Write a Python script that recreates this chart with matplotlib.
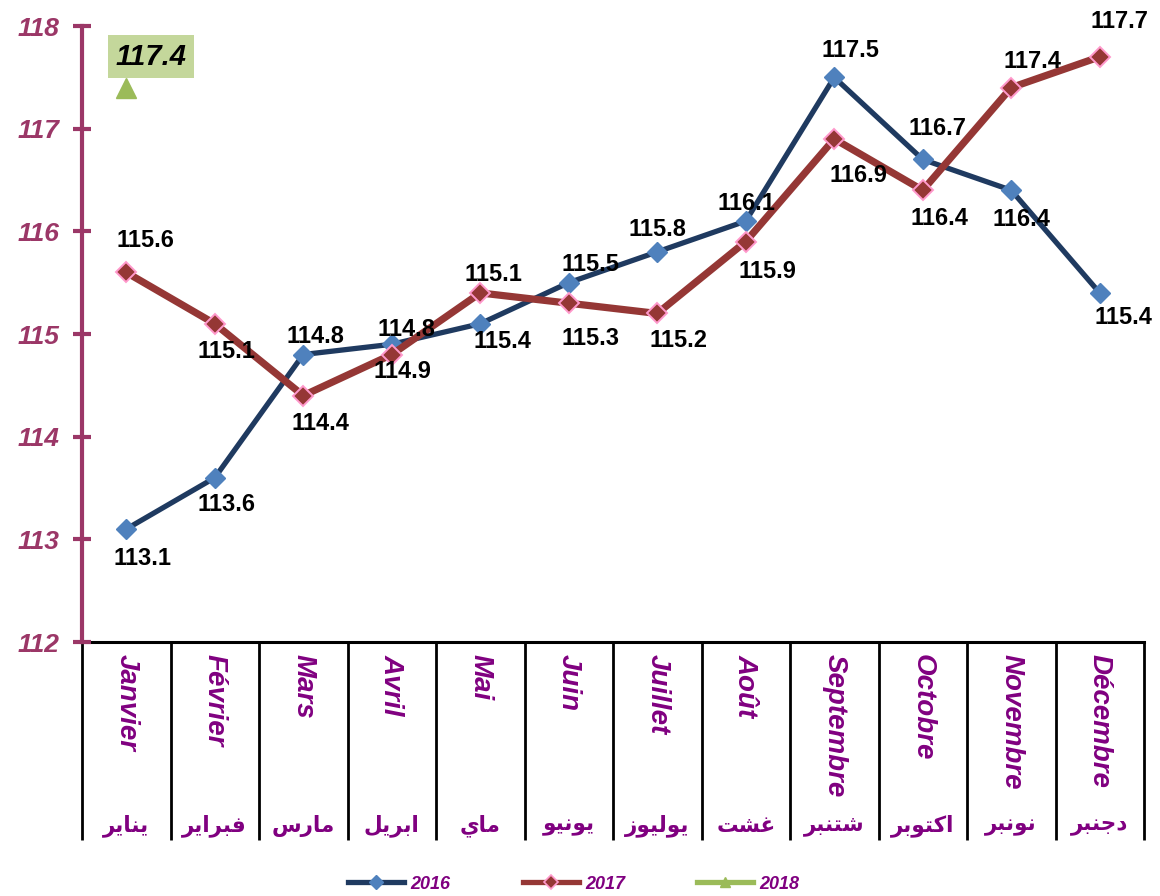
import matplotlib
matplotlib.use("Agg")
import matplotlib.pyplot as plt
import matplotlib.transforms as mtransforms
from matplotlib.lines import Line2D

plt.rcParams['font.family'] = ['Liberation Sans', 'DejaVu Sans']

# ---------------- data ----------------
months_fr = ["Janvier", "Février", "Mars", "Avril", "Mai", "Juin", "Juillet",
             "Août", "Septembre", "Octobre", "Novembre", "Décembre"]
months_ar = ["يناير", "فبراير", "مارس", "ابريل", "ماي", "يونيو", "يوليوز",
             "غشت", "شتنبر", "اكتوبر", "نونبر", "دجنبر"]

v2016 = [113.1, 113.6, 114.8, 114.9, 115.1, 115.5, 115.8, 116.1, 117.5, 116.7, 116.4, 115.4]
v2017 = [115.6, 115.1, 114.4, 114.8, 115.4, 115.3, 115.2, 115.9, 116.9, 116.4, 117.4, 117.7]
v2018 = [117.4]

# data labels as printed in the source chart
lab2016 = ["113.1", "113.6", "114.8", "114.8", "115.4", "115.5", "115.8", "116.1",
           "117.5", "116.7", "116.4", "115.4"]
lab2017 = ["115.6", "115.1", "114.4", "114.9", "115.1", "115.3", "115.2", "115.9",
           "116.9", "116.4", "117.4", "117.7"]
lab2018 = ["117.4"]

yticks = [112, 113, 114, 115, 116, 117, 118]
series_names = ["2016", "2017", "2018"]

# label offsets (pixels, dx right, dy down) -- styling only
off2016 = [(16, 29), (12, 27), (12, -18), (15, -15), (22, 18), (22, -18), (0, -22),
           (1, -18), (16, -27), (15, -31), (10, 29), (24, 25)]
off2017 = [(19, -32), (12, 28), (17, 28), (11, 17), (13, -18), (22, 35), (21, 27),
           (22, 30), (24, 37), (17, 28), (21, -26), (20, -35)]

# ---------------- styling ----------------
C16_LINE, C16_MARK = "#1F3A60", "#4F81BD"
C17_LINE, C17_EDGE = "#953735", "#FF99CC"
C18 = "#9BBB59"
AXC = "#9B3767"
TXT_PURPLE = "#800080"

# ---------------- arabic shaping (presentation forms) ----------------
_forms = {
    'ا': ('\uFE8D', '\uFE8E', None, None),
    'ب': ('\uFE8F', '\uFE90', '\uFE91', '\uFE92'),
    'ت': ('\uFE95', '\uFE96', '\uFE97', '\uFE98'),
    'ج': ('\uFE9D', '\uFE9E', '\uFE9F', '\uFEA0'),
    'د': ('\uFEA9', '\uFEAA', None, None),
    'ر': ('\uFEAD', '\uFEAE', None, None),
    'ز': ('\uFEAF', '\uFEB0', None, None),
    'س': ('\uFEB1', '\uFEB2', '\uFEB3', '\uFEB4'),
    'ش': ('\uFEB5', '\uFEB6', '\uFEB7', '\uFEB8'),
    'غ': ('\uFECD', '\uFECE', '\uFECF', '\uFED0'),
    'ف': ('\uFED1', '\uFED2', '\uFED3', '\uFED4'),
    'ك': ('\uFED9', '\uFEDA', '\uFEDB', '\uFEDC'),
    'ل': ('\uFEDD', '\uFEDE', '\uFEDF', '\uFEE0'),
    'م': ('\uFEE1', '\uFEE2', '\uFEE3', '\uFEE4'),
    'ن': ('\uFEE5', '\uFEE6', '\uFEE7', '\uFEE8'),
    'و': ('\uFEED', '\uFEEE', None, None),
    'ي': ('\uFEF1', '\uFEF2', '\uFEF3', '\uFEF4'),
}


def shape_ar(word):
    out = []
    n = len(word)
    for i, ch in enumerate(word):
        f = _forms.get(ch)
        if f is None:
            out.append(ch)
            continue
        prev_j = i > 0 and _forms.get(word[i - 1], (0, 0, None))[2] is not None
        next_j = i < n - 1 and f[2] is not None and word[i + 1] in _forms
        if prev_j and next_j:
            out.append(f[3])
        elif prev_j:
            out.append(f[1])
        elif next_j:
            out.append(f[2])
        else:
            out.append(f[0])
    return "".join(reversed(out))


# ---------------- figure ----------------
W, H = 1160, 896
fig = plt.figure(figsize=(W / 100, H / 100), dpi=100)
ax = fig.add_axes([82 / W, 1 - 642 / H, 1062 / W, 616 / H])

x = list(range(len(months_fr)))
ax.plot(x, v2016, color=C16_LINE, lw=3.8, marker='D', ms=10.5,
        mfc=C16_MARK, mec=C16_MARK, zorder=3, clip_on=False)
ax.plot(x, v2017, color=C17_LINE, lw=5.2, marker='D', ms=10.5,
        mfc=C17_LINE, mec=C17_EDGE, mew=1.4, zorder=3, clip_on=False)
ax.plot(x[:len(v2018)], v2018, color=C18, lw=3.8, marker='^', ms=14,
        mfc=C18, mec=C18, ls='none', zorder=3, clip_on=False)

px2pt = 0.72
for i, (v, t, (dx, dy)) in enumerate(zip(v2016, lab2016, off2016)):
    ax.annotate(t, (i, v), xytext=(dx * px2pt, -dy * px2pt), textcoords='offset points',
                ha='center', va='center', fontsize=17, fontweight='bold', color='black',
                zorder=5, annotation_clip=False)
for i, (v, t, (dx, dy)) in enumerate(zip(v2017, lab2017, off2017)):
    ax.annotate(t, (i, v), xytext=(dx * px2pt, -dy * px2pt), textcoords='offset points',
                ha='center', va='center', fontsize=17, fontweight='bold', color='black',
                zorder=5, annotation_clip=False)
for i, (v, t) in enumerate(zip(v2018, lab2018)):
    ax.annotate(t, (i, v), xytext=(25 * px2pt, 31 * px2pt), textcoords='offset points',
                ha='center', va='center', fontsize=21, fontweight='bold', fontstyle='italic',
                color='black', zorder=5, annotation_clip=False,
                bbox=dict(boxstyle='square,pad=0.26', fc='#C4D79B', ec='none'))

ax.set_xlim(-0.5, len(x) - 0.5)
ax.set_ylim(yticks[0], yticks[-1])
ax.set_yticks(yticks)
ax.set_yticklabels([str(t) for t in yticks], fontsize=19, fontweight='bold',
                   fontstyle='italic', color=AXC)
ax.tick_params(axis='y', direction='inout', length=13, width=3, color=AXC, pad=10)
ax.set_xticks([])
for s in ['top', 'right']:
    ax.spines[s].set_visible(False)
ax.spines['left'].set_color(AXC)
ax.spines['left'].set_linewidth(3)
ax.spines['bottom'].set_color('black')
ax.spines['bottom'].set_linewidth(2.2)
ax.spines['bottom'].set_zorder(1)

# category table under the axis
trans = mtransforms.blended_transform_factory(ax.transData, ax.transAxes)
table_bottom = -198 / 616
ax.vlines([k - 0.5 for k in range(len(x) + 1)], table_bottom, 0, transform=trans,
          colors='black', lw=2, clip_on=False, zorder=1)
for i, (fr, ar) in enumerate(zip(months_fr, months_ar)):
    ax.text(i, -12 / 616, fr, transform=trans, rotation=270, ha='center', va='top',
            fontsize=20, fontweight='bold', fontstyle='italic', color=TXT_PURPLE)
    ax.text(i, -184 / 616, shape_ar(ar), transform=trans, ha='center', va='center',
            fontsize=15.5, fontweight='bold', color=TXT_PURPLE, family=['DejaVu Sans'])

# legend
handles = [
    Line2D([], [], color=C16_LINE, lw=3.8, marker='D', ms=7, mfc=C16_MARK, mec=C16_MARK),
    Line2D([], [], color=C17_LINE, lw=3.8, marker='D', ms=7, mfc=C17_LINE, mec=C17_EDGE, mew=1.2),
    Line2D([], [], color=C18, lw=3.8, marker='^', ms=7, mfc=C18, mec=C18),
]
fig.legend(handles, series_names, loc='center', bbox_to_anchor=(574 / W, 1 - 884 / H),
           ncol=3, frameon=False, handlelength=3.1, handletextpad=0.35, columnspacing=4.0,
           prop=dict(size=13, weight='bold', style='italic'), labelcolor=TXT_PURPLE)

fig.savefig("out.png", dpi=100)
